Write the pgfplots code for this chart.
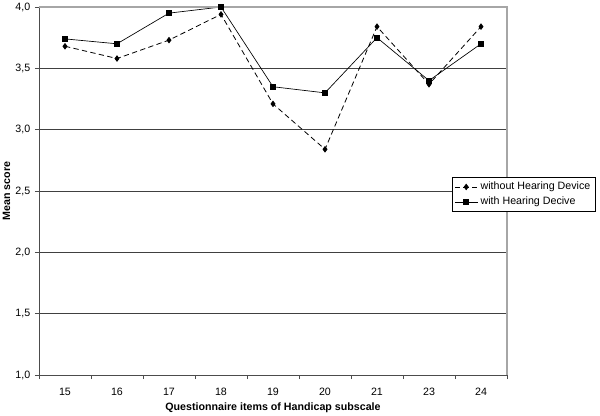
\documentclass[border=0pt]{standalone}
\usepackage{pgfplots}
\pgfplotsset{compat=1.18}
\usepackage{fontspec}
\setmainfont{Liberation Sans}
\begin{document}
\begin{tikzpicture}[x=1pt,y=1pt]
% page frame: 600x415 px at 0.75pt per px, plot area lower left at origin
\useasboundingbox (-29.25,-30) rectangle (420.75,281.25);
\begin{axis}[
  at={(0,0)}, anchor=south west,
  scale only axis,
  width=351pt, height=276pt,
  xmin=-0.5, xmax=8.5,
  ymin=1, ymax=4,
  xtick={0,...,8},
  xticklabels={15,16,17,18,19,20,21,23,24},
  minor xtick={-0.5,0.5,...,8.5},
  ytick={1,1.5,...,4},
  ymajorgrids,
  grid style={black!75, line width=0.5pt},
  axis lines*=left,
  axis line style={black!70, line width=0.6pt},
  x tick style={draw=none},
  minor x tick style={draw=black!70, line width=0.6pt},
  y tick style={black!70, line width=0.6pt},
  tick align=outside,
  major tick length=3pt,
  minor tick length=3pt,
  tick label style={font=\fontsize{8}{9}\selectfont},
  /pgf/number format/.cd, use comma, fixed, fixed zerofill, precision=1,
  assume math mode=true,
  /pgfplots/.cd,
  xticklabel style={yshift=-3.5pt},
  xlabel={\bfseries Questionnaire items of Handicap subscale},
  ylabel={\bfseries Mean score},
  label style={font=\fontsize{8}{9}\selectfont},
  xlabel style={yshift=1.5pt},
  ylabel style={yshift=-3pt},
  clip=false,
  legend style={
    at={(0.8825,0.538)}, anchor=north west,
    font=\fontsize{8}{9.5}\selectfont,
    draw=black, line width=0.6pt, fill=white,
    inner sep=1.5pt, row sep=0pt,
    cells={anchor=west},
  },
  legend cell align=left,
]
\addplot[black, line width=0.6pt, dash pattern=on 4pt off 2.5pt,
  mark=diamond*, mark size=2pt, mark options={solid}]
  coordinates {
  (0,3.68) (1,3.58) (2,3.73) (3,3.94) (4,3.21)
  (5,2.84) (6,3.84) (7,3.37) (8,3.84)
};
\addlegendentry{without Hearing Device}
\addplot[black, line width=0.5pt,
  mark=square*, mark size=1.9pt]
  coordinates {
  (0,3.74) (1,3.70) (2,3.95) (3,4.00) (4,3.35)
  (5,3.30) (6,3.75) (7,3.40) (8,3.70)
};
\addlegendentry{with Hearing Decive}
% light grey top and right border of the plot area
\draw[black!35, line width=0.8pt] (rel axis cs:0,1) -- (rel axis cs:1,1) -- (rel axis cs:1,0);
\end{axis}
\end{tikzpicture}
\end{document}
